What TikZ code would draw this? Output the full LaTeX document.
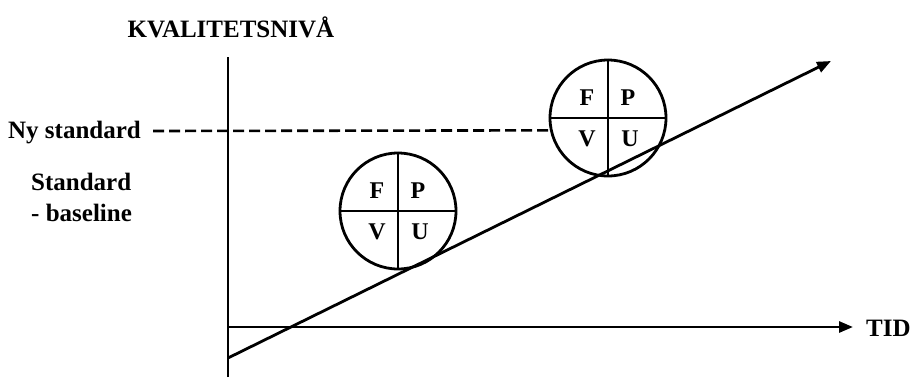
\documentclass[tikz,border=0pt]{standalone}
\usepackage{fontspec}
\setmainfont{Liberation Serif}
\usetikzlibrary{arrows.meta}
\tikzset{
  lbl/.style={font=\bfseries\fontsize{25}{31}\selectfont, inner sep=0pt},
  ax/.style={line width=2.8pt},
  arr/.style={ax, -{Triangle[length=14pt,width=11pt]}},
  pdca/.style={circle, draw, line width=2.8pt, minimum size=116pt, inner sep=0pt},
  quad/.style={line width=2.6pt},
  qletter/.style={font=\bfseries\fontsize{24}{24}\selectfont, inner sep=0pt}
}
\begin{document}
\begin{tikzpicture}[x=1pt,y=-1pt]
\useasboundingbox (0,0) rectangle (912,378);
% axes
\coordinate (vtop) at (228,57);
\coordinate (vbot) at (228,377);
\coordinate (hstart) at (228,327);
\coordinate (hend) at (853,327);
\coordinate (dstart) at (228,358);
\coordinate (dend) at (831,61);
\coordinate (nystart) at (153,131);
\draw[ax] (vbot) -- (vtop);
\draw[arr] (hstart) -- (hend);
\draw[arr] (dstart) -- (dend);
% labels
\node[lbl] (title) at (231,27) {KVALITETSNIVÅ};
\node[lbl, anchor=west] (ny) at (8,133) {Ny standard};
\node[lbl, align=left, anchor=west] (std) at (31,197) {Standard\\- baseline};
\node[lbl, anchor=west] (tid) at (866,328) {TID};
% circles
\node[pdca] (c1) at (398,211) {};
\node[pdca] (c2) at (608,118) {};
\foreach \c in {c1,c2}{
  \draw[quad] (\c.north) -- (\c.south);
  \draw[quad] (\c.west) -- (\c.east);
}
\foreach \c in {c1,c2}{
  \node[qletter] (\c F) at ([xshift=-21pt,yshift=20pt]\c.center) {F};
  \node[qletter] (\c P) at ([xshift=20pt,yshift=20pt]\c.center) {P};
  \node[qletter] (\c V) at ([xshift=-21pt,yshift=-21pt]\c.center) {V};
  \node[qletter] (\c U) at ([xshift=22pt,yshift=-21pt]\c.center) {U};
}
% dashed new standard line
\draw[ax, line width=2.6pt, dash pattern=on 11pt off 5pt] (nystart) -- (c2.192);
\end{tikzpicture}
\end{document}
